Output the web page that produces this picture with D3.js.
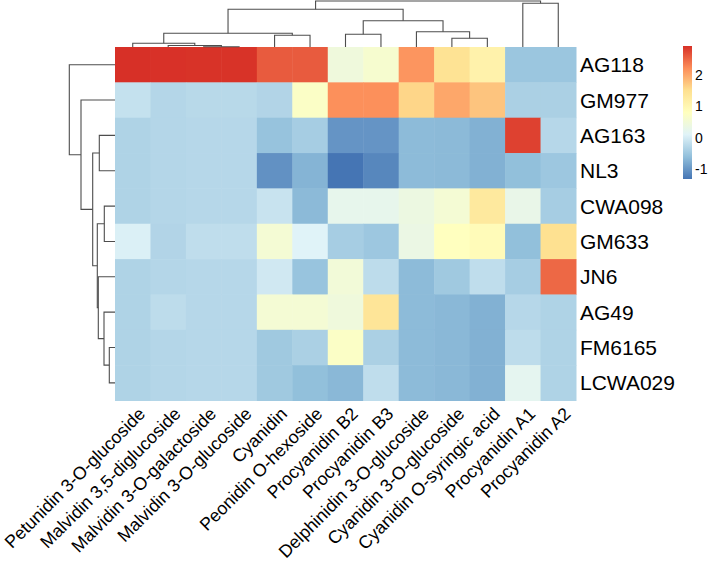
<!DOCTYPE html>
<html>
<head>
<meta charset="utf-8">
<script src="https://cdn.jsdelivr.net/npm/d3@7"></script>
<style>
  body { margin: 0; background: #ffffff; }
  text { font-family: "Liberation Sans", Arial, sans-serif; fill: #000000; }
</style>
</head>
<body>
<div id="heatmap"></div>
<script>
// Samples (rows) and compounds (columns), in dendrogram order
var samples = ["AG118", "GM977", "AG163", "NL3", "CWA098", "GM633", "JN6", "AG49", "FM6165", "LCWA029"];

var compounds = [
  "Petunidin 3-O-glucoside", "Malvidin 3,5-diglucoside", "Malvidin 3-O-galactoside",
  "Malvidin 3-O-glucoside", "Cyanidin", "Peonidin O-hexoside", "Procyanidin B2",
  "Procyanidin B3", "Delphinidin 3-O-glucoside", "Cyanidin 3-O-glucoside",
  "Cyanidin O-syringic acid", "Procyanidin A1", "Procyanidin A2"
];

// Scaled values, one array per sample
var values = [
  [2.93, 2.92, 2.91, 2.91, 2.6, 2.6, 0.45, 0.6, 2.15, 1.45, 1.1, -0.52, -0.52],
  [-0.15, -0.3, -0.26, -0.26, -0.32, 0.72, 2.2, 2.2, 1.6, 2.0, 1.75, -0.38, -0.38],
  [-0.34, -0.3, -0.28, -0.28, -0.56, -0.42, -1.02, -1.02, -0.65, -0.66, -0.75, 2.8, -0.28],
  [-0.34, -0.3, -0.28, -0.28, -1.05, -0.72, -1.32, -1.15, -0.65, -0.66, -0.75, -0.6, -0.5],
  [-0.34, -0.3, -0.28, -0.28, -0.12, -0.66, 0.25, 0.25, 0.38, 0.55, 1.3, 0.3, -0.42],
  [0.05, -0.32, -0.2, -0.2, 0.55, 0.1, -0.42, -0.5, 0.35, 0.8, 0.9, -0.6, 1.5],
  [-0.34, -0.3, -0.28, -0.28, -0.05, -0.55, 0.5, -0.22, -0.65, -0.48, -0.2, -0.42, 2.5],
  [-0.34, -0.22, -0.28, -0.28, 0.55, 0.55, 0.45, 1.4, -0.65, -0.68, -0.75, -0.28, -0.34],
  [-0.34, -0.3, -0.28, -0.28, -0.48, -0.38, 0.72, -0.38, -0.65, -0.68, -0.75, -0.22, -0.34],
  [-0.34, -0.3, -0.28, -0.28, -0.48, -0.6, -0.68, -0.2, -0.65, -0.68, -0.75, 0.2, -0.34]
];

// Clustering merges, hclust style: [left, right, height]
// negative = leaf number (1-based), positive = earlier merge number
var rowMerges = [
  [-9, -10, 5.7], [-5, -6, 10.7], [-8, 1, 11], [-3, -4, 15.7], [-7, 3, 16.7],
  [2, 5, 17.7], [4, 6, 22.3], [-2, 7, 34], [-1, 8, 45.7]
];

var colMerges = [
  [-3, -4, 0.3], [-2, 1, 1.5], [-1, 2, 3.7], [-10, -11, 8.7], [-5, -6, 11.7],
  [-7, -8, 12.7], [3, 5, 13.7], [-9, 4, 15.3], [6, 8, 26.3], [7, 9, 37.7],
  [-12, -13, 43.7], [10, 11, 46]
];

var legendTicks = [-1, 0, 1, 2];

// rev(brewer.pal(7, "RdYlBu"))
var palette = ["#4575B4", "#91BFDB", "#E0F3F8", "#FFFFBF", "#FEE090", "#FC8D59", "#D73027"];

var width = 709,
  height = 561;

var hm = { left: 115, top: 47, right: 576, bottom: 400.5 };

var svg = d3
  .select("#heatmap")
  .append("svg")
  .attr("width", width)
  .attr("height", height)
  .attr("viewBox", [0, 0, width, height]);

var x = d3.scaleBand().domain(compounds).range([hm.left, hm.right]);
var y = d3.scaleBand().domain(samples).range([hm.top, hm.bottom]);

var flat = values.flat();
var vmin = d3.min(flat),
  vmax = d3.max(flat);

var color = d3
  .scaleLinear()
  .domain(palette.map((c, i) => vmin + (i * (vmax - vmin)) / (palette.length - 1)))
  .range(palette)
  .interpolate(d3.interpolateRgb);

// Heatmap cells
var cells = [];
values.forEach((row, i) =>
  row.forEach((v, j) => cells.push({ sample: samples[i], compound: compounds[j], value: v }))
);

svg
  .append("g")
  .selectAll("rect")
  .data(cells)
  .enter()
  .append("rect")
  .attr("x", (d) => x(d.compound))
  .attr("y", (d) => y(d.sample))
  .attr("width", x.bandwidth() + 0.5)
  .attr("height", y.bandwidth() + 0.5)
  .attr("fill", (d) => color(d.value));

// Dendrogram segments from merge table
function tree_paths(merges, leafPos, hScale, vertical) {
  var nodes = [];
  var paths = [];
  merges.forEach(function (m) {
    var kids = m.slice(0, 2).map((k) =>
      k < 0 ? { pos: leafPos[-k - 1], h: 0 } : nodes[k - 1]
    );
    var node = { pos: (kids[0].pos + kids[1].pos) / 2, h: m[2] };
    nodes.push(node);
    var hp = hScale(node.h);
    if (vertical) {
      paths.push(
        "M" + kids[0].pos + "," + hScale(kids[0].h) + "V" + hp +
          "H" + kids[1].pos + "V" + hScale(kids[1].h)
      );
    } else {
      paths.push(
        "M" + hScale(kids[0].h) + "," + kids[0].pos + "H" + hp +
          "V" + kids[1].pos + "H" + hScale(kids[1].h)
      );
    }
  });
  return paths;
}

var colH = d3.scaleLinear().domain([0, d3.max(colMerges, (d) => d[2])]).range([hm.top, 1]);
var rowH = d3.scaleLinear().domain([0, d3.max(rowMerges, (d) => d[2])]).range([hm.left, 69.3]);

var colLeaf = compounds.map((c) => x(c) + x.bandwidth() / 2);
var rowLeaf = samples.map((s) => y(s) + y.bandwidth() / 2);

svg
  .append("g")
  .selectAll("path")
  .data(tree_paths(colMerges, colLeaf, colH, true).concat(tree_paths(rowMerges, rowLeaf, rowH, false)))
  .enter()
  .append("path")
  .attr("d", (d) => d)
  .attr("fill", "none")
  .attr("stroke", "#4d4d4d")
  .attr("stroke-width", 1.1);

// Row labels
svg
  .append("g")
  .selectAll("text")
  .data(samples)
  .enter()
  .append("text")
  .attr("x", hm.right + 4)
  .attr("y", (d) => y(d) + y.bandwidth() / 2)
  .attr("dy", "0.36em")
  .style("font-size", "21px")
  .text((d) => d);

// Column labels, 45 degrees
svg
  .append("g")
  .selectAll("text")
  .data(compounds)
  .enter()
  .append("text")
  .attr("transform", (d) => "translate(" + (x(d) + x.bandwidth() / 2 + 4.5) + "," + 406 + ") rotate(-45)")
  .attr("text-anchor", "end")
  .attr("dy", "0.72em")
  .style("font-size", "17.8px")
  .text((d) => d);

// Colour legend
var lg = { x: 683, w: 9, top: 46, bottom: 179 };
var ly = d3.scaleLinear().domain([vmin, vmax]).range([lg.bottom, lg.top]);

var grad = svg
  .append("defs")
  .append("linearGradient")
  .attr("id", "legend-grad")
  .attr("x1", 0)
  .attr("x2", 0)
  .attr("y1", 1)
  .attr("y2", 0);

grad
  .selectAll("stop")
  .data(palette)
  .enter()
  .append("stop")
  .attr("offset", (d, i) => i / (palette.length - 1))
  .attr("stop-color", (d) => d);

svg
  .append("rect")
  .attr("x", lg.x)
  .attr("y", lg.top)
  .attr("width", lg.w)
  .attr("height", lg.bottom - lg.top)
  .attr("fill", "url(#legend-grad)");

svg
  .append("g")
  .selectAll("text")
  .data(legendTicks)
  .enter()
  .append("text")
  .attr("x", lg.x + lg.w + 3)
  .attr("y", (d) => ly(d))
  .attr("dy", "0.36em")
  .style("font-size", "14px")
  .text((d) => d);
</script>
</body>
</html>
